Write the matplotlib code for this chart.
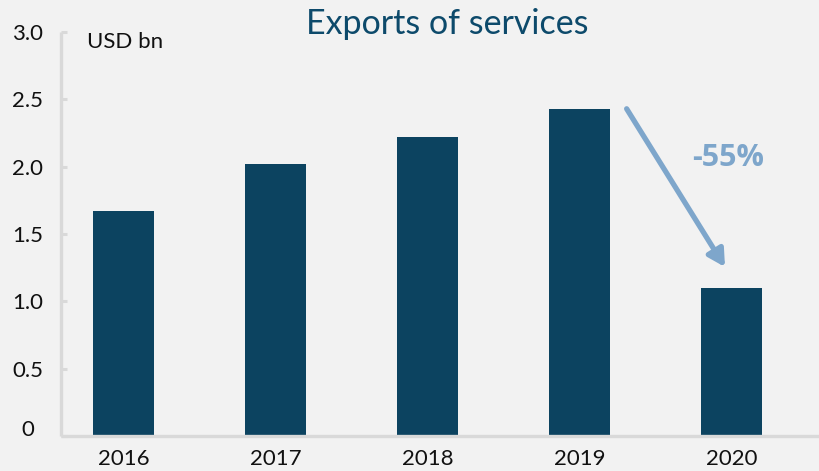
import matplotlib
matplotlib.use("Agg")
import matplotlib.pyplot as plt
import matplotlib.transforms as mtransforms

years = ["2016", "2017", "2018", "2019", "2020"]
exports = [1.67, 2.02, 2.22, 2.43, 1.10]
y_ticks = [0, 0.5, 1.0, 1.5, 2.0, 2.5, 3.0]
y_tick_labels = ["0", "0.5", "1.0", "1.5", "2.0", "2.5", "3.0"]
change_label = "-55%"

BG = "#f2f2f2"
BAR = "#0c4360"
AXIS = "#d9d9d9"
ARROW = "#7ea6cb"
TITLE = "#0d4a6b"

plt.rcParams["font.family"] = ["Lato", "DejaVu Sans"]

fig = plt.figure(figsize=(8.2, 4.71), dpi=100, facecolor=BG)
ax = fig.add_axes([0.0744, 0.0743, 0.9256, 0.8577])
ax.set_facecolor(BG)

x = list(range(len(years)))
ax.bar(x, exports, width=0.4, color=BAR, zorder=2)

ax.set_xlim(-0.411, 4.582)
ax.set_ylim(0, 3.0)

for side in ("top", "right"):
    ax.spines[side].set_visible(False)
for side in ("left", "bottom"):
    ax.spines[side].set_color(AXIS)
    ax.spines[side].set_linewidth(2.4)
    ax.spines[side].set_capstyle("butt")

ax.set_yticks(y_ticks)
ax.set_yticklabels(y_tick_labels)
ax.tick_params(axis="y", direction="in", length=4.5, width=2.2, color=AXIS,
               labelsize=16, labelcolor="#111111", pad=13)
ax.set_xticks(x)
ax.set_xticklabels(years)
ax.tick_params(axis="x", length=0, labelsize=16, labelcolor="#111111", pad=9)

# lift the zero label slightly
zero_lbl = ax.get_yticklabels()[0]
zero_lbl.set_transform(zero_lbl.get_transform() +
                       mtransforms.ScaledTranslation(-6 / 72, 6 / 72, fig.dpi_scale_trans))

ax.text(0.034, 0.975, "USD bn", transform=ax.transAxes, fontsize=16,
        color="#111111", ha="left", va="center")

fig.text(0.546, 0.948, "Exports of services", fontsize=24.5, color=TITLE,
         ha="center", va="center")

# decline from 2019 to 2020
ax.annotate("", xy=(3.957, 1.255), xytext=(3.31, 2.43),
            arrowprops=dict(arrowstyle="-|>,head_length=1.0,head_width=0.55",
                            color=ARROW, lw=3.8, shrinkA=0, shrinkB=0),
            zorder=3)
ax.text(3.977, 2.064, change_label, fontsize=22, fontweight="bold",
        family=["Open Sans", "DejaVu Sans"], color=ARROW, ha="center", va="center")

fig.savefig("out.png", dpi=100, facecolor=BG)
